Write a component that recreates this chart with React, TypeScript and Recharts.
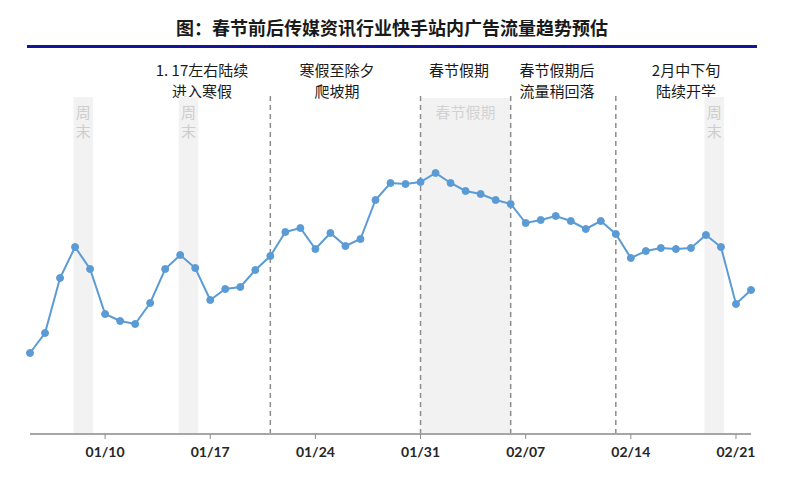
import React from 'react';
import { LineChart, Line, XAxis, YAxis, ReferenceArea, ReferenceLine } from 'recharts';

const dates = [
  '01/05','01/06','01/07','01/08','01/09','01/10','01/11','01/12','01/13','01/14',
  '01/15','01/16','01/17','01/18','01/19','01/20','01/21','01/22','01/23','01/24',
  '01/25','01/26','01/27','01/28','01/29','01/30','01/31','02/01','02/02','02/03',
  '02/04','02/05','02/06','02/07','02/08','02/09','02/10','02/11','02/12','02/13',
  '02/14','02/15','02/16','02/17','02/18','02/19','02/20','02/21','02/22',
];
const values = [
  81, 101, 156, 187, 165, 120, 113, 110, 131, 165,
  179, 166, 134, 145, 147, 164, 178, 202, 206, 185,
  201, 188, 195, 234, 251, 250, 252, 261, 251, 243,
  240, 234, 230, 211, 214, 218, 213, 205, 213, 200,
  176, 183, 186, 185, 186, 199, 187, 130, 144,
];
const tickLabels = ['01/10', '01/17', '01/24', '01/31', '02/07', '02/14', '02/21'];
const weekendStarts = ['01/08', '01/15', '02/19'];
const holidayRange = ['01/31', '02/06'];
const dividerDates = ['01/21', '01/31', '02/06', '02/13'];
const annotations = [
  { lines: ['1. 17左右陆续', '进入寒假'], cx: 202 },
  { lines: ['寒假至除夕', '爬坡期'], cx: 337 },
  { lines: ['春节假期'], cx: 459 },
  { lines: ['春节假期后', '流量稍回落'], cx: 557 },
  { lines: ['2月中下旬', '陆续开学'], cx: 686 },
];
const title = '图：春节前后传媒资讯行业快手站内广告流量趋势预估';

const data = dates.map((d, i) => ({ i, date: d, value: values[i] }));
const idx = (d: string) => dates.indexOf(d);

const CJK = '"Noto Sans CJK SC", "Noto Sans", sans-serif';

const WeekendLabel = (props: any) => {
  const vb = props.viewBox || {};
  const cx = vb.x + vb.width / 2;
  return (
    <g>
      <text x={cx} y={vb.y + 14} textAnchor="middle" dominantBaseline="central" fontSize={15} fill="#cdcdcd" fontFamily={CJK}>周</text>
      <text x={cx} y={vb.y + 33} textAnchor="middle" dominantBaseline="central" fontSize={15} fill="#cdcdcd" fontFamily={CJK}>末</text>
    </g>
  );
};

export default function App() {
  return (
    <div style={{ position: 'absolute', left: 0, top: 0, width: 800, height: 482, background: '#fff', overflow: 'hidden' }}>
      <div style={{ position: 'absolute', left: 0, width: 784, top: 14, textAlign: 'center', fontFamily: CJK, fontWeight: 700, fontSize: 18, lineHeight: '26px', color: '#1a1a1a' }}>
        {title}
      </div>
      <div style={{ position: 'absolute', left: 27, width: 730, top: 45, height: 3, background: '#14149a' }} />
      {annotations.map((a, k) => (
        <div key={k} style={{ position: 'absolute', left: a.cx - 80, width: 160, top: 59, textAlign: 'center', fontFamily: CJK, fontSize: 15, lineHeight: '21px', color: '#1a1a1a', whiteSpace: 'nowrap' }}>
          {a.lines.map((l, j) => (<div key={j}>{l}</div>))}
        </div>
      ))}
      <div style={{ position: 'absolute', left: 0, top: 0 }}>
        <LineChart width={800} height={482} data={data} margin={{ top: 92, right: 49, bottom: 18, left: 30 }}>
          <XAxis
            dataKey="i"
            type="number"
            domain={[0, dates.length - 1]}
            ticks={tickLabels.map(idx)}
            tickFormatter={(v: number) => dates[v]}
            axisLine={{ stroke: '#a6a6a6', strokeWidth: 2 }}
            tickLine={{ stroke: '#8c8c8c' }}
            tickSize={5}
            tickMargin={8}
            height={30}
            interval={0}
            tick={{ fontSize: 14, fontWeight: 700, fill: '#262626', fontFamily: 'Lato, sans-serif' }}
          />
          <YAxis hide domain={[0, 342]} />
          {weekendStarts.map((d) => (
            <ReferenceArea key={d} x1={idx(d) - 0.1} x2={idx(d) + 1.2} y1={0} y2={337} fill="#f2f2f2" fillOpacity={1} stroke="none" label={<WeekendLabel />} />
          ))}
          <ReferenceArea
            x1={idx(holidayRange[0])}
            x2={idx(holidayRange[1])}
            y1={0}
            y2={336}
            fill="#f2f2f2"
            fillOpacity={1}
            stroke="none"
            label={{ value: '春节假期', position: 'insideTop', offset: 9, fill: '#d2d2d2', fontSize: 15, fontFamily: CJK }}
          />
          {dividerDates.map((d) => (
            <ReferenceLine key={d} x={idx(d)} stroke="#8c8c8c" strokeWidth={1.5} strokeDasharray="5 4" />
          ))}
          <Line
            type="linear"
            dataKey="value"
            stroke="#5b9bd5"
            strokeWidth={2}
            dot={{ r: 3.5, fill: '#5b9bd5', stroke: '#5b9bd5', strokeWidth: 1 }}
            activeDot={false}
            isAnimationActive={false}
          />
        </LineChart>
      </div>
    </div>
  );
}
